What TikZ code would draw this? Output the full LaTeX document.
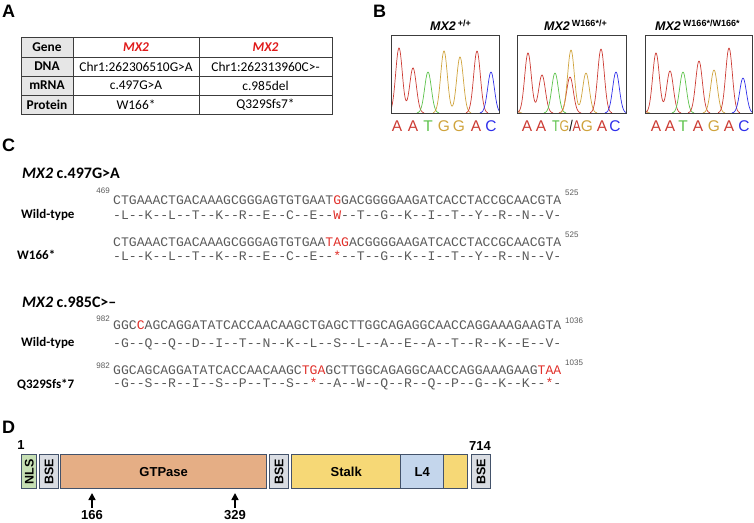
\documentclass[tikz,border=0pt]{standalone}
\usepackage{fontspec}
\setmainfont{Liberation Sans}
\setmonofont{Liberation Mono}
\newfontfamily\cali{Carlito}
\usetikzlibrary{arrows.meta}
\definecolor{cA}{HTML}{CC3B33}
\definecolor{cT}{HTML}{5CC24A}
\definecolor{cG}{HTML}{CFA33C}
\definecolor{cC}{HTML}{2E2EEA}
\definecolor{seqgray}{HTML}{5A5A5A}
\definecolor{seqred}{HTML}{E0302A}
\definecolor{genered}{HTML}{E01A1A}
\definecolor{tabgray}{HTML}{E6E6E6}
\definecolor{tabline}{HTML}{3C3C3C}
\definecolor{nlsgreen}{HTML}{C6DFB4}
\definecolor{bsegray}{HTML}{DADDE3}
\definecolor{gtpfill}{HTML}{E5AE85}
\definecolor{stalkfill}{HTML}{F6D876}
\definecolor{lfourfill}{HTML}{C4D6EC}
\definecolor{domline}{HTML}{43526A}
\newcommand\pk[3]{\draw[#1,chrom] plot[domain={#2-11}:{#2+11},samples=40,smooth] (\x,{113-(113-#3)*exp(-((\x-#2)^2)/22.5)});}
\newcommand\pkk[5]{\draw[#1,chrom] plot[domain={#2-11}:{#4+11},samples=70,smooth] (\x,{113-(113-#3)*exp(-((\x-#2)^2)/22.5)-(113-#5)*exp(-((\x-#4)^2)/22.5)});}
\newcommand\rd[1]{\textcolor{seqred}{#1}}
\begin{document}
\begin{tikzpicture}[x=1pt,y=-1pt,
  panel/.style={font=\bfseries\fontsize{18}{18}\selectfont, anchor=base west, inner sep=0},
  cell/.style={font=\cali\fontsize{13.4}{13}\selectfont, anchor=center, inner sep=0},
  hcell/.style={font=\cali\bfseries\fontsize{13.4}{13}\selectfont, anchor=center, inner sep=0},
  chrom/.style={line width=0.7pt},
  cbox/.style={draw=tabline, line width=0.9pt},
  baselet/.style={font=\fontsize{15.5}{15.5}\selectfont, anchor=base, inner sep=0},
  ctitle/.style={font=\bfseries\fontsize{12.5}{12.5}\selectfont, anchor=base west, inner sep=0},
  seq/.style={font=\ttfamily\fontsize{13.1}{13}\selectfont, text=seqgray, anchor=base west, inner sep=0},
  posnum/.style={font=\fontsize{8}{8}\selectfont, text=seqgray, inner sep=0},
  rowlab/.style={font=\cali\bfseries\fontsize{13}{13}\selectfont, anchor=base west, inner sep=0},
  sectitle/.style={font=\cali\bfseries\fontsize{16}{16}\selectfont, anchor=base west, inner sep=0},
  dom/.style={draw=domline, line width=1.4pt, inner sep=0, anchor=north west, minimum height=34pt, font=\bfseries\fontsize{13}{13}\selectfont},
  vdom/.style={dom, font=\bfseries\fontsize{12.5}{12.5}\selectfont},
  dlab/.style={font=\bfseries\fontsize{13}{13}\selectfont, anchor=base, inner sep=0},
  marker/.style={line width=1.6pt, -{Triangle[width=7pt,length=7pt]}}
]
\useasboundingbox (0,0) rectangle (754,522);

% ---------- Panel labels
\node[panel] (labA) at (2,17) {A};
\node[panel] (labB) at (373,17) {B};
\node[panel] (labC) at (2,151) {C};
\node[panel] (labD) at (2,433) {D};

% ---------- Panel A table
\fill[tabgray] (21,37) rectangle (73,114);
\draw[tabline, line width=0.9pt] (21,37) rectangle (332,114);
\foreach \yy in {57,76,95} \draw[tabline, line width=0.9pt] (21,\yy) -- (332,\yy);
\foreach \xx in {73,199} \draw[tabline, line width=0.9pt] (\xx,37) -- (\xx,114);
\node[hcell] (tGene) at (47,47) {Gene};
\node[hcell] (tDNA) at (47,66.5) {DNA};
\node[hcell] (tmRNA) at (47,85.5) {mRNA};
\node[hcell] (tProt) at (47,104.5) {Protein};
\node[hcell, text=genered] (g1) at (136,47) {\itshape MX2};
\node[hcell, text=genered] (g2) at (265.5,47) {\itshape MX2};
\node[cell] (d1) at (136,66.5) {Chr1:262306510G>A};
\node[cell] (d2) at (265.5,66.5) {Chr1:262313960C>-};
\node[cell] (m1) at (136,85.5) {c.497G>A};
\node[cell] (m2) at (265.5,85.5) {c.985del};
\node[cell] (p1) at (136,104.5) {W166*};
\node[cell] (p2) at (265.5,104.5) {Q329Sfs7*};

% ---------- Panel B chromatograms
\node[ctitle] (bt1) at (430,30) {\itshape MX2\,\raisebox{3.5pt}{\upshape\fontsize{9}{9}\selectfont +/+}};
\node[ctitle] (bt2) at (544,30) {\itshape MX2\,\raisebox{3.5pt}{\upshape\fontsize{9}{9}\selectfont W166*/+}};
\node[ctitle] (bt3) at (655,30) {\itshape MX2\,\raisebox{3.5pt}{\upshape\fontsize{9}{9}\selectfont W166*/W166*}};

\begin{scope}
\clip (391,35) rectangle (499,113);
\pkk{cA}{399}{48}{413}{68}
\pk{cT}{428}{72}
\pkk{cG}{444}{51}{460}{57}
\pk{cA}{477}{51}
\pk{cC}{491}{72}
\end{scope}
\draw[cbox] (391,35) rectangle (499,113);

\begin{scope}
\clip (517,35) rectangle (626,113);
\pk{cG}{511}{95}
\pkk{cA}{528}{53}{542}{75}
\pk{cT}{555}{73}
\pk{cA}{570}{77}
\pkk{cG}{571}{50}{586}{73}
\pk{cA}{601}{49}
\pk{cC}{616}{72}
\end{scope}
\draw[cbox] (517,35) rectangle (626,113);

\begin{scope}
\clip (645,35) rectangle (752,113);
\pk{cG}{639}{95}
\pkk{cA}{656}{53}{670}{71}
\pk{cT}{683}{72}
\pk{cA}{699}{61}
\pk{cG}{714}{70}
\pk{cA}{729}{48}
\pk{cC}{743}{78}
\end{scope}
\draw[cbox] (645,35) rectangle (752,113);

\foreach \xx/\cc/\bb [count=\i] in {397/cA/A,413/cA/A,428/cT/T,444/cG/G,459/cG/G,476/cA/A,491/cC/C,
  527/cA/A,541/cA/A,587/cG/G,602/cA/A,615/cC/C,
  656/cA/A,670/cA/A,683/cT/T,698/cA/A,714/cG/G,729/cA/A,744/cC/C}
  \node[baselet, text=\cc] (bl\i) at (\xx,131) {\bb};
\node[baselet] (blmix) at (566.5,131) {\scalebox{0.8}[1]{\textcolor{cT}{T}\textcolor{cG}{G}/\textcolor{cA}{A}}};

% ---------- Panel C
\node[sectitle] (c1t) at (22,178) {\itshape MX2\upshape\ c.497G>A};
\node[posnum, anchor=base east] (n469) at (110,193) {469};
\node[seq] (s1) at (113,204) {CTGAAACTGACAAAGCGGGAGTGTGAAT\rd{G}GACGGGGAAGATCACCTACCGCAACGTA};
\node[posnum, anchor=base west] (n525a) at (565,195) {525};
\node[rowlab] (wt1) at (21,218) {Wild-type};
\node[seq] (a1) at (113,219) {-L--K--L--T--K--R--E--C--E--\rd{W}--T--G--K--I--T--Y--R--N--V-};
\node[seq] (s2) at (113,246) {CTGAAACTGACAAAGCGGGAGTGTGAA\rd{TAG}ACGGGGAAGATCACCTACCGCAACGTA};
\node[posnum, anchor=base west] (n525b) at (565,237) {525};
\node[rowlab] (mu1) at (17,259) {W166*};
\node[seq] (a2) at (113,260) {-L--K--L--T--K--R--E--C--E--\rd{*}--T--G--K--I--T--Y--R--N--V-};

\node[sectitle] (c2t) at (22,307) {\itshape MX2\upshape\ c.985C>–};
\node[posnum, anchor=base east] (n982a) at (110,321) {982};
\node[seq] (s3) at (113,329) {GGC\rd{C}AGCAGGATATCACCAACAAGCTGAGCTTGGCAGAGGCAACCAGGAAAGAAGTA};
\node[posnum, anchor=base west] (n1036) at (565,323) {1036};
\node[rowlab] (wt2) at (21,346) {Wild-type};
\node[seq] (a3) at (113,347) {-G--Q--Q--D--I--T--N--K--L--S--L--A--E--A--T--R--K--E--V-};
\node[posnum, anchor=base east] (n982b) at (110,368) {982};
\node[seq] (s4) at (113,374) {GGCAGCAGGATATCACCAACAAGC\rd{TGA}GCTTGGCAGAGGCAACCAGGAAAGAAG\rd{TAA}};
\node[posnum, anchor=base west] (n1035) at (565,365) {1035};
\node[rowlab] (mu2) at (17,388) {Q329Sfs*7};
\node[seq] (a4) at (113,387) {-G--S--R--I--S--P--T--S--\rd{*}--A--W--Q--R--Q--P--G--K--K--\rd{*}-};

% ---------- Panel D
\node[dlab] (one) at (21,449) {1};
\node[dlab] (end714) at (480,450) {714};
\node[vdom, fill=nlsgreen, minimum width=15pt] (nls) at (21,454) {\rotatebox{90}{NLS}};
\node[vdom, fill=bsegray, minimum width=19.5pt] (bse1) at (38.5,454) {\rotatebox{90}{BSE}};
\node[dom, fill=gtpfill, minimum width=206pt] (gtp) at (60,454) {GTPase};
\node[vdom, fill=bsegray, minimum width=19.5pt] (bse2) at (268.5,454) {\rotatebox{90}{BSE}};
\node[dom, fill=stalkfill, minimum width=109pt] (stalk) at (291,454) {Stalk};
\node[dom, fill=lfourfill, minimum width=43pt] (lfour) at (400,454) {L4};
\node[dom, fill=stalkfill, minimum width=24pt] (stalk2) at (443,454) {};
\node[vdom, fill=bsegray, minimum width=18.5pt] (bse3) at (471,454) {\rotatebox{90}{BSE}};

\coordinate (m1b) at (92,508);
\coordinate (m1t) at (92,493);
\coordinate (m2b) at (235,508);
\coordinate (m2t) at (235,493);
\draw[marker] (m1b) -- (m1t);
\draw[marker] (m2b) -- (m2t);
\node[dlab] (l166) at (92,519.5) {166};
\node[dlab] (l329) at (235,519.5) {329};
\end{tikzpicture}
\end{document}
